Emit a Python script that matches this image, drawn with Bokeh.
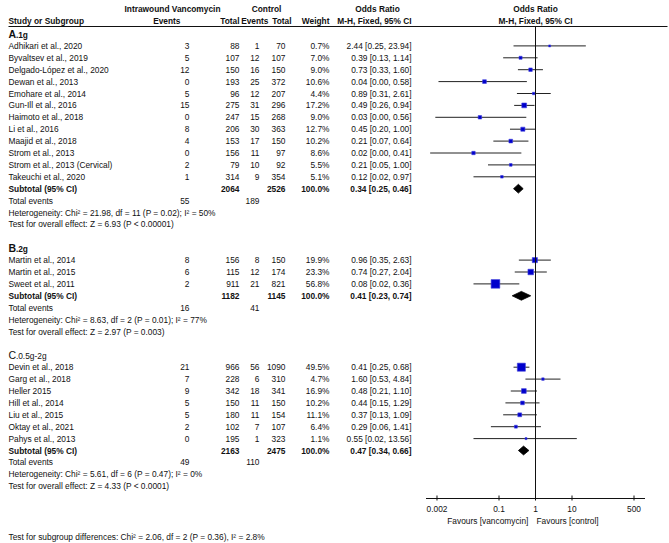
import math
from bokeh.plotting import figure
from bokeh.models import Range1d, LogScale
from bokeh.core.properties import value
from bokeh.embed import file_html
from bokeh.resources import INLINE

# ---------------- data ----------------
studies_a = ["Adhikari et al., 2020", "Byvaltsev et al., 2019", "Delgado-López et al., 2020",
             "Dewan et al., 2013", "Emohare et al., 2014", "Gun-Ill et al., 2016",
             "Haimoto et al., 2018", "Li  et al., 2016", "Maajid et al., 2018",
             "Strom et al., 2013", "Strom et al., 2013 (Cervical)", "Takeuchi et al., 2020"]
ev_vanc_a = [3, 5, 12, 0, 5, 15, 0, 8, 4, 0, 2, 1]
tot_vanc_a = [88, 107, 150, 193, 96, 275, 247, 206, 153, 156, 79, 314]
ev_ctrl_a = [1, 12, 16, 25, 12, 31, 15, 30, 17, 11, 10, 9]
tot_ctrl_a = [70, 107, 150, 372, 207, 296, 268, 363, 150, 97, 92, 354]
weight_a = [0.7, 7.0, 9.0, 10.6, 4.4, 17.2, 9.0, 12.7, 10.2, 8.6, 5.5, 5.1]
or_a = [2.44, 0.39, 0.73, 0.04, 0.89, 0.49, 0.03, 0.45, 0.21, 0.02, 0.21, 0.12]
lo_a = [0.25, 0.13, 0.33, 0.0022, 0.31, 0.26, 0.0018, 0.20, 0.07, 0.0013, 0.05, 0.02]
hi_a = [23.94, 1.14, 1.60, 0.58, 2.61, 0.94, 0.56, 1.00, 0.64, 0.41, 1.00, 0.97]
sub_a = dict(tv=2064, tc=2526, ev=55, ec=189, orv=0.34, lo=0.25, hi=0.46,
             chi=21.98, df=11, p="0.02", i2="50", z=6.93, pz="< 0.00001")

studies_b = ["Martin et al., 2014", "Martin et al., 2015", "Sweet et al., 2011"]
ev_vanc_b = [8, 6, 2]
tot_vanc_b = [156, 115, 911]
ev_ctrl_b = [8, 12, 21]
tot_ctrl_b = [150, 174, 821]
weight_b = [19.9, 23.3, 56.8]
or_b = [0.96, 0.74, 0.08]
lo_b = [0.35, 0.27, 0.02]
hi_b = [2.63, 2.04, 0.36]
sub_b = dict(tv=1182, tc=1145, ev=16, ec=41, orv=0.41, lo=0.23, hi=0.74,
             chi=8.63, df=2, p="0.01", i2="77", z=2.97, pz="= 0.003")

studies_c = ["Devin et al., 2018", "Garg et al., 2018", "Heller 2015", "Hill et al., 2014",
             "Liu et al., 2015", "Oktay et al., 2021", "Pahys et al., 2013"]
ev_vanc_c = [21, 7, 9, 5, 5, 2, 0]
tot_vanc_c = [966, 228, 342, 150, 180, 102, 195]
ev_ctrl_c = [56, 6, 18, 11, 11, 7, 1]
tot_ctrl_c = [1090, 310, 341, 150, 154, 107, 323]
weight_c = [49.5, 4.7, 16.9, 10.2, 11.1, 6.4, 1.1]
or_c = [0.41, 1.60, 0.48, 0.44, 0.37, 0.29, 0.55]
lo_c = [0.25, 0.53, 0.21, 0.15, 0.13, 0.06, 0.02]
hi_c = [0.68, 4.84, 1.10, 1.29, 1.09, 1.41, 13.56]
sub_c = dict(tv=2163, tc=2475, ev=49, ec=110, orv=0.47, lo=0.34, hi=0.66,
             chi=5.61, df=6, p="0.47", i2="0", z=4.33, pz="< 0.0001")

group_letters = ["A", "B", "C"]
group_suffix = [".1g", ".2g", ".0.5g-2g"]
axis_ticks = [0.002, 0.1, 1, 10, 500]
axis_tick_labels = ["0.002", "0.1", "1", "10", "500"]
subgroup_test = dict(chi=2.06, df=2, p="0.36", i2="2.8")

# ---------------- layout (picture pixel coordinates) ----------------
W, H = 669, 543
FONT = "Liberation Sans"
FS = "8.35px"
INK = "#111111"
NULL_PX, DEC_PX = 535.0, 36.5
X_STUDY = 8.0
X_EV_V, X_TOT_V, X_EV_C, X_TOT_C = 189, 239, 259, 285
X_W, X_OR = 329, 411
Y0, PITCH = 33.5, 11.9
Y_HEAD1, Y_HEAD2, Y_RULE = 8.5, 20.5, 26.0
Y_AXIS = 498.0

p = figure(width=W, height=H, output_backend="svg", toolbar_location=None,
           x_range=Range1d(0, W), y_range=Range1d(H, 0),
           x_axis_location=None, y_axis_location=None,
           min_border=0, outline_line_color=None, background_fill_color="white")
p.grid.visible = False
p.min_border_left = p.min_border_right = p.min_border_top = p.min_border_bottom = 0

l_left = (0 - NULL_PX) / DEC_PX
l_right = (W - NULL_PX) / DEC_PX
p.extra_x_ranges = {"or": Range1d(10 ** l_left, 10 ** l_right)}
p.extra_x_scales = {"or": LogScale()}


def txt(xs, ys, texts, align="left", bold=False, size=FS, rng="default"):
    kw = {}
    if rng != "default":
        kw["x_range_name"] = rng
    p.text(x=xs, y=ys, text=texts, text_align=align, text_baseline="middle",
           text_font=value(FONT), text_font_size=size, text_color=INK,
           text_font_style="bold" if bold else "normal", **kw)


def fmt_or(o, l, h):
    return f"{o:.2f} [{l:.2f}, {h:.2f}]"


# headers
txt([172], [Y_HEAD1], ["Intrawound Vancomycin"], "center", True)
txt([266], [Y_HEAD1], ["Control"], "center", True)
txt([377], [Y_HEAD1], ["Odds Ratio"], "center", True)
txt([1], [Y_HEAD1], ["Odds Ratio"], "center", True, rng="or")
txt([X_STUDY], [Y_HEAD2], ["Study or Subgroup"], "left", True)
txt([180], [Y_HEAD2], ["Events"], "right", True)
txt([X_TOT_V], [Y_HEAD2], ["Total"], "right", True)
txt([268], [Y_HEAD2], ["Events"], "right", True)
txt([291], [Y_HEAD2], ["Total"], "right", True)
txt([X_W], [Y_HEAD2], ["Weight"], "right", True)
txt([X_OR], [Y_HEAD2], ["M-H, Fixed, 95% CI"], "right", True)
txt([1], [Y_HEAD2], ["M-H, Fixed, 95% CI"], "center", True, rng="or")
p.segment(x0=[8], x1=[667], y0=[Y_RULE], y1=[Y_RULE], line_color=INK, line_width=1)

groups = [
    (studies_a, ev_vanc_a, tot_vanc_a, ev_ctrl_a, tot_ctrl_a, weight_a, or_a, lo_a, hi_a, sub_a),
    (studies_b, ev_vanc_b, tot_vanc_b, ev_ctrl_b, tot_ctrl_b, weight_b, or_b, lo_b, hi_b, sub_b),
    (studies_c, ev_vanc_c, tot_vanc_c, ev_ctrl_c, tot_ctrl_c, weight_c, or_c, lo_c, hi_c, sub_c),
]

k = 0
for gi, (st, evv, totv, evc, totc, wt, orv, lo, hi, sub) in enumerate(groups):
    yl = Y0 + PITCH * k
    bold_lab = gi < 2
    txt([X_STUDY], [yl], [group_letters[gi]], "left", bold_lab, size="10.5px")
    txt([X_STUDY + 7.4], [yl + 0.8], [group_suffix[gi]], "left", bold_lab)
    n = len(st)
    ys = [Y0 + PITCH * (k + 1 + i) for i in range(n)]
    txt([X_STUDY] * n, ys, st, "left")
    txt([X_EV_V] * n, ys, [str(v) for v in evv], "right")
    txt([X_TOT_V] * n, ys, [str(v) for v in totv], "right")
    txt([X_EV_C] * n, ys, [str(v) for v in evc], "right")
    txt([X_TOT_C] * n, ys, [str(v) for v in totc], "right")
    txt([X_W] * n, ys, [f"{v:.1f}%" for v in wt], "right")
    txt([X_OR] * n, ys, [fmt_or(o, a, b) for o, a, b in zip(orv, lo, hi)], "right")
    # CI lines and squares
    p.segment(x0=lo, x1=hi, y0=ys, y1=ys, x_range_name="or", line_color="#222222", line_width=1)
    sizes = [max(2.0, 1.15 * math.sqrt(w)) for w in wt]
    p.scatter(x=orv, y=ys, size=sizes, marker="square", x_range_name="or",
              fill_color="#0000cc", line_color="#4040dd", line_width=0.6)
    # subtotal
    ysub = Y0 + PITCH * (k + 1 + n)
    txt([X_STUDY], [ysub], ["Subtotal (95% CI)"], "left", True)
    txt([X_TOT_V], [ysub], [str(sub["tv"])], "right", True)
    txt([X_TOT_C], [ysub], [str(sub["tc"])], "right", True)
    txt([X_W], [ysub], ["100.0%"], "right", True)
    txt([X_OR], [ysub], [fmt_or(sub["orv"], sub["lo"], sub["hi"])], "right", True)
    hh = 4.4
    p.patches(xs=[[sub["lo"], sub["orv"], sub["hi"], sub["orv"]]],
              ys=[[ysub, ysub - hh, ysub, ysub + hh]], x_range_name="or",
              fill_color="black", line_color="black", line_width=0.8)
    yte = ysub + PITCH
    txt([X_STUDY], [yte], ["Total events"], "left")
    txt([X_EV_V], [yte], [str(sub["ev"])], "right")
    txt([X_EV_C], [yte], [str(sub["ec"])], "right")
    txt([X_STUDY], [yte + PITCH],
        [f"Heterogeneity: Chi² = {sub['chi']:.2f}, df = {sub['df']} (P = {sub['p']}); I² = {sub['i2']}%"], "left")
    txt([X_STUDY], [yte + 2 * PITCH],
        [f"Test for overall effect: Z = {sub['z']:.2f} (P {sub['pz']})"], "left")
    k += n + 6

# null line
p.segment(x0=[1], x1=[1], y0=[Y_RULE], y1=[Y_AXIS], x_range_name="or", line_color=INK, line_width=1)
# axis
p.segment(x0=[0.001], x1=[1000], y0=[Y_AXIS], y1=[Y_AXIS], x_range_name="or", line_color=INK, line_width=1)
p.segment(x0=axis_ticks, x1=axis_ticks, y0=[Y_AXIS - 3] * 5, y1=[Y_AXIS + 2] * 5,
          x_range_name="or", line_color=INK, line_width=1)
txt(axis_ticks, [Y_AXIS + 10] * 5, axis_tick_labels, "center", rng="or")
txt([0.64], [Y_AXIS + 22], ["Favours [vancomycin]"], "right", rng="or")
txt([1.065], [Y_AXIS + 22], ["Favours [control]"], "left", rng="or")

txt([X_STUDY], [536],
    [f"Test for subgroup differences: Chi² = {subgroup_test['chi']:.2f}, df = {subgroup_test['df']} "
     f"(P = {subgroup_test['p']}), I² = {subgroup_test['i2']}%"], "left")

open("out.html", "w").write(file_html(p, INLINE))
